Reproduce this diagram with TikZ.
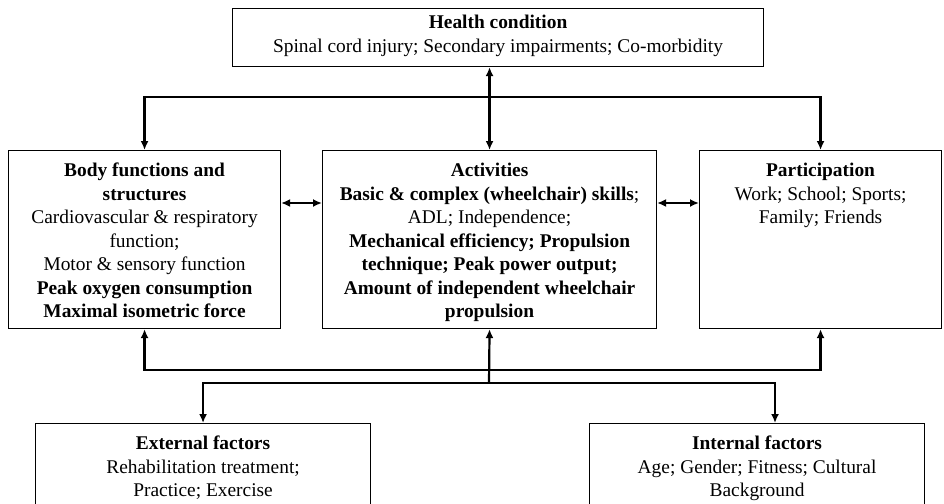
\documentclass[tikz,border=0pt]{standalone}
\usepackage{fontspec}
\setmainfont{Liberation Serif}
\usetikzlibrary{arrows.meta,positioning,calc}

\begin{document}
\begin{tikzpicture}[x=1pt,y=-1pt,>={Latex[length=9pt,width=8pt]},
  font=\fontsize{19.4}{23.5}\selectfont,
  box/.style={draw,line width=1.1pt,inner sep=0pt,anchor=north west},
  txt/.style={align=center,anchor=north,inner sep=0pt},
  link/.style={line width=2.2pt}]
  \useasboundingbox (0,0) rectangle (944,503);
  \clip (0,0) rectangle (944,503);

  % frames
  \node[box,minimum width=531pt,minimum height=58pt] (health) at (232,8) {};
  \node[box,minimum width=272pt,minimum height=178pt] (body) at (8,150) {};
  \node[box,minimum width=334pt,minimum height=178pt] (act) at (322,150) {};
  \node[box,minimum width=242pt,minimum height=178pt] (part) at (699,150) {};
  \node[box,minimum width=335pt,minimum height=120pt] (ext) at (35,423) {};
  \node[box,minimum width=335pt,minimum height=120pt] (int) at (589,423) {};

  % texts
  \node[txt] (healthtxt) at ($(health.north)+(0,7)$)
    {\textbf{Health condition}\\Spinal cord injury; Secondary impairments; Co-morbidity};
  \node[txt] (bodytxt) at ($(body.north)+(0,13)$)
    {\textbf{Body functions and}\\\textbf{structures}\\Cardiovascular \& respiratory\\function;\\Motor \& sensory function\\\textbf{Peak oxygen consumption}\\\textbf{Maximal isometric force}};
  \node[txt] (acttxt) at ($(act.north)+(0,13)$)
    {\textbf{Activities}\\\textbf{Basic \& complex (wheelchair) skills};\\ADL; Independence;\\\textbf{Mechanical efficiency; Propulsion}\\\textbf{technique; Peak power output;}\\\textbf{Amount of independent wheelchair}\\\textbf{propulsion}};
  \node[txt] (parttxt) at ($(part.north)+(0,13)$)
    {\textbf{Participation}\\Work; School; Sports;\\Family; Friends};
  \node[txt] (exttxt) at ($(ext.north)+(0,13)$)
    {\textbf{External factors}\\Rehabilitation treatment;\\Practice; Exercise};
  \node[txt] (inttxt) at ($(int.north)+(0,13)$)
    {\textbf{Internal factors}\\Age; Gender; Fitness; Cultural\\Background};

  % junctions
  \coordinate (topbus) at (489,97);
  \coordinate (sidebus) at (0,203);
  \coordinate (botbus) at (489,370);
  \coordinate (hub) at (489,383);
  \coordinate (intin) at (775,423);

  % connectors
  \draw[link,<->] (act.north) -- (act.north |- health.south);
  \draw[link,<->] (body.north) |- (topbus) -| (part.north);
  \draw[link,<->] (body.east |- sidebus) -- (act.west |- sidebus);
  \draw[link,<->] (act.east |- sidebus) -- (part.west |- sidebus);
  \draw[link,<->] (body.south) |- (botbus) -| (part.south);
  \draw[link,->] (hub) -- (act.south);
  \draw[link,<->] (ext.north) |- (hub) -| (intin);
\end{tikzpicture}
\end{document}
